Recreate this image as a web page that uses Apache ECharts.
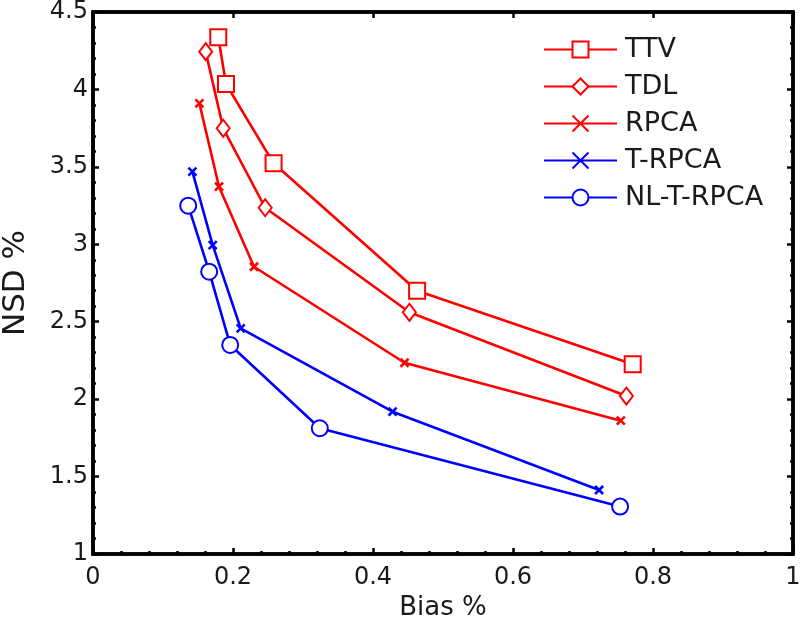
<!DOCTYPE html>
<html>
<head>
<meta charset="utf-8">
<script src="https://cdn.jsdelivr.net/npm/echarts@6/dist/echarts.min.js"></script>
<style>html,body{margin:0;padding:0;background:#fff;}#c{width:800px;height:632px;}</style>
</head>
<body>
<div id="c"></div>
<script>
const seriesNames = ['TTV', 'TDL', 'RPCA', 'T-RPCA', 'NL-T-RPCA'];
const ttvBias = [0.179, 0.190, 0.258, 0.463, 0.771];
const ttvNSD  = [4.337, 4.035, 3.523, 2.700, 2.225];
const tdlBias = [0.161, 0.186, 0.246, 0.452, 0.762];
const tdlNSD  = [4.244, 3.749, 3.236, 2.561, 2.020];
const rpcaBias = [0.152, 0.180, 0.230, 0.445, 0.754];
const rpcaNSD  = [3.910, 3.372, 2.855, 2.235, 1.861];
const trpcaBias = [0.142, 0.171, 0.211, 0.428, 0.723];
const trpcaNSD  = [3.469, 2.995, 2.457, 1.919, 1.413];
const nltrpcaBias = [0.136, 0.166, 0.196, 0.324, 0.753];
const nltrpcaNSD  = [3.249, 2.823, 2.350, 1.812, 1.306];

const xTicks = [0, 0.2, 0.4, 0.6, 0.8, 1];
const yTicks = [1, 1.5, 2, 2.5, 3, 3.5, 4, 4.5];

function pairs(xs, ys) { return xs.map((x, i) => [x, ys[i]]); }

const RED = '#ff0000', BLUE = '#0000ff';
const FONT = 'DejaVu Sans, Liberation Sans, Arial, sans-serif';
const TXT = '#1a1a1a';
const XMARK = 'path://M0,0L10,10M10,0L0,10';

function mkSeries(name, data, color, symbol, size) {
  return {
    name: name, type: 'line', data: data,
    symbol: symbol, symbolSize: size,
    lineStyle: { color: color, width: 2.6 },
    itemStyle: { color: color, borderColor: color, borderWidth: 2.6 },
    emphasis: { disabled: true },
    z: 3
  };
}
function axLine() { return { show: true, onZero: false, lineStyle: { color: '#000', width: 3.5 } }; }
function majTick() { return { show: true, inside: true, length: 6, lineStyle: { color: '#000', width: 2.5 } }; }
function minTick() { return { show: true, splitNumber: 5, length: 3, lineStyle: { color: '#000', width: 2.5 } }; }

const chart = echarts.init(document.getElementById('c'), null, { renderer: 'canvas' });
chart.setOption({
  animation: false,
  backgroundColor: '#fff',
  textStyle: { fontFamily: FONT },
  grid: { left: 93, right: 7, top: 12, bottom: 78, outerBoundsMode: 'none', containLabel: false,
    show: true, borderColor: '#000', borderWidth: 3.5, backgroundColor: 'transparent' },
  legend: {
    orient: 'vertical', left: 538, top: 31,
    itemWidth: 73, itemHeight: 20, itemGap: 10,
    textStyle: { fontFamily: FONT, fontSize: 27, color: TXT, padding: [0, 0, 0, 3] },
    data: seriesNames
  },
  xAxis: [
    {
      type: 'value', min: xTicks[0], max: xTicks[xTicks.length - 1], interval: 0.2,
      position: 'bottom',
      name: 'Bias %', nameLocation: 'middle', nameGap: 38,
      nameTextStyle: { fontFamily: FONT, fontSize: 26, color: TXT },
      axisLine: axLine(), axisTick: majTick(), minorTick: minTick(),
      axisLabel: { fontFamily: FONT, fontSize: 24, color: TXT, margin: 12, formatter: v => String(v) },
      splitLine: { show: false }
    },
    {
      type: 'value', min: xTicks[0], max: xTicks[xTicks.length - 1], interval: 0.2,
      position: 'top',
      axisLine: axLine(), axisTick: majTick(),
      axisLabel: { show: false },
      splitLine: { show: false }
    }
  ],
  yAxis: [
    {
      type: 'value', min: yTicks[0], max: yTicks[yTicks.length - 1], interval: 0.5,
      position: 'left',
      name: 'NSD %', nameLocation: 'middle', nameGap: 62,
      nameTextStyle: { fontFamily: FONT, fontSize: 31, color: TXT },
      axisLine: axLine(), axisTick: majTick(), minorTick: minTick(),
      axisLabel: { fontFamily: FONT, fontSize: 24, color: TXT, margin: 5, formatter: v => String(v) },
      splitLine: { show: false }
    },
    {
      type: 'value', min: yTicks[0], max: yTicks[yTicks.length - 1], interval: 0.5,
      position: 'right',
      axisLine: axLine(), axisTick: majTick(), minorTick: minTick(),
      axisLabel: { show: false },
      splitLine: { show: false }
    }
  ],
  series: [
    mkSeries('TTV', pairs(ttvBias, ttvNSD), RED, 'emptyRect', 16),
    mkSeries('TDL', pairs(tdlBias, tdlNSD), RED, 'emptyDiamond', [13, 17]),
    mkSeries('RPCA', pairs(rpcaBias, rpcaNSD), RED, XMARK, 8),
    mkSeries('T-RPCA', pairs(trpcaBias, trpcaNSD), BLUE, XMARK, 8),
    mkSeries('NL-T-RPCA', pairs(nltrpcaBias, nltrpcaNSD), BLUE, 'emptyCircle', 16)
  ]
});
</script>
</body>
</html>
